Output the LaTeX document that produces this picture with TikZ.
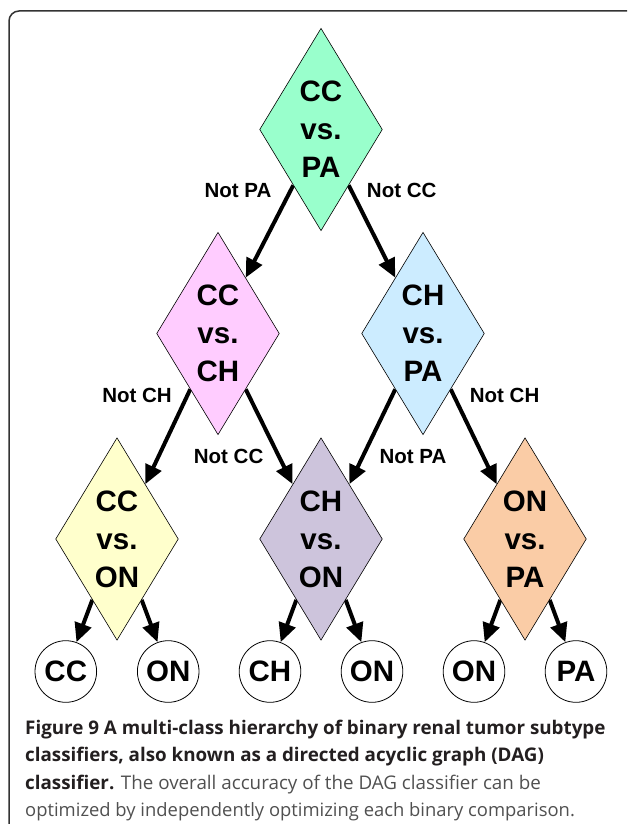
\documentclass[tikz,border=0pt]{standalone}
\usepackage{fontspec}
\setmainfont{Liberation Sans}
\newfontfamily\capfont{Open Sans}
\usetikzlibrary{shapes.geometric,arrows.meta,calc}
\definecolor{cgreen}{RGB}{153,255,204}
\definecolor{cpink}{RGB}{255,204,255}
\definecolor{cblue}{RGB}{204,236,255}
\definecolor{cyellow}{RGB}{255,255,204}
\definecolor{cpurple}{RGB}{205,196,220}
\definecolor{corange}{RGB}{250,204,166}
\definecolor{capdark}{RGB}{35,31,32}
\definecolor{capgray}{RGB}{80,80,80}
\definecolor{framegray}{RGB}{51,51,51}
\pgfdeclarelayer{bg}
\pgfsetlayers{bg,main}
\begin{document}
\begin{tikzpicture}[x=1pt,y=-1pt,
  dia/.style={diamond, draw=black, line width=0.6pt, minimum width=122.7pt,
    minimum height=202.4pt, inner sep=0pt, shape aspect=0.606, align=center,
    font=\fontsize{29.5}{38}\selectfont\bfseries},
  leaf/.style={circle, draw=black, line width=0.8pt, minimum size=61.6pt,
    inner sep=0pt, font=\fontsize{29.5}{34}\selectfont\bfseries},
  arr/.style={line width=4pt, -{Triangle[length=19pt,width=17pt]}},
  lab/.style={font=\fontsize{20.5}{24}\selectfont\bfseries, anchor=base, inner sep=0pt},
  capline/.style={anchor=base west, inner sep=0pt, font=\capfont\fontsize{18.8}{27.6}\selectfont}]
\useasboundingbox (0,0) rectangle (627,824);
\begin{scope}
\clip (0,0) rectangle (627,824);
\draw[framegray, line width=1.5pt, rounded corners=10pt] (9,11) rectangle (640,900);
\end{scope}

% diamonds
\node[dia, fill=cgreen]  (top)  at (321,129.5) {CC\\vs.\\PA};
\node[dia, fill=cpink]   (pink) at (218,333.5) {CC\\vs.\\CH};
\node[dia, fill=cblue]   (blue) at (423,333.5) {CH\\vs.\\PA};
\node[dia, fill=cyellow] (yel)  at (117,539)   {CC\\vs.\\ON};
\node[dia, fill=cpurple] (pur)  at (321,539)   {CH\\vs.\\ON};
\node[dia, fill=corange] (ora)  at (525,539)   {ON\\vs.\\PA};

% leaves
\node[leaf] (l1) at (65.8,671.5) {CC};
\node[leaf] (l2) at (168.2,671.5) {ON};
\node[leaf] (l3) at (270,671.5) {CH};
\node[leaf] (l4) at (372,671.5) {ON};
\node[leaf] (l5) at (474,671.5) {ON};
\node[leaf] (l6) at (576,671.5) {PA};

% arrows
\begin{pgfonlayer}{bg}
\draw[arr] ($(top.west)!0.55!(top.south)$) -- ($(pink.north)!0.45!(pink.east)$);
\draw[arr] ($(top.east)!0.55!(top.south)$) -- ($(blue.north)!0.45!(blue.west)$);
\draw[arr] ($(pink.west)!0.55!(pink.south)$) -- ($(yel.north)!0.46!(yel.east)$);
\draw[arr] ($(pink.east)!0.55!(pink.south)$) -- ($(pur.north)!0.46!(pur.west)$);
\draw[arr] ($(blue.west)!0.55!(blue.south)$) -- ($(pur.north)!0.46!(pur.east)$);
\draw[arr] ($(blue.east)!0.55!(blue.south)$) -- ($(ora.north)!0.46!(ora.west)$);
\draw[arr] ($(yel.west)!0.6!(yel.south)$) -- (l1.70);
\draw[arr] ($(yel.east)!0.6!(yel.south)$) -- (l2.110);
\draw[arr] ($(pur.west)!0.6!(pur.south)$) -- (l3.70);
\draw[arr] ($(pur.east)!0.6!(pur.south)$) -- (l4.110);
\draw[arr] ($(ora.west)!0.6!(ora.south)$) -- (l5.70);
\draw[arr] ($(ora.east)!0.6!(ora.south)$) -- (l6.110);
\end{pgfonlayer}

% edge labels
\node[lab] (t1) at (238,197.3) {Not PA};
\node[lab] (t2) at (401.7,197.3) {Not CC};
\node[lab] (t3) at (137,402.7) {Not CH};
\node[lab] (t4) at (504.6,402.7) {Not CH};
\node[lab] (t5) at (228.6,463.3) {Not CC};
\node[lab] (t6) at (413,463.3) {Not PA};

% caption
\node[capline, text=capdark] (c1) at (25,734) {\bfseries Figure 9 A multi-class hierarchy of binary renal tumor subtype};
\node[capline, text=capdark] (c2) at (25,761.6) {\bfseries classifiers, also known as a directed acyclic graph (DAG)};
\node[capline] (c3) at (25,789.2) {\textcolor{capdark}{\bfseries classifier.} \textcolor{capgray}{The overall accuracy of the DAG classifier can be}};
\node[capline, text=capgray, font=\capfont\fontsize{18.4}{27.6}\selectfont] (c4) at (25,816.8) {optimized by independently optimizing each binary comparison.};
\end{tikzpicture}
\end{document}
